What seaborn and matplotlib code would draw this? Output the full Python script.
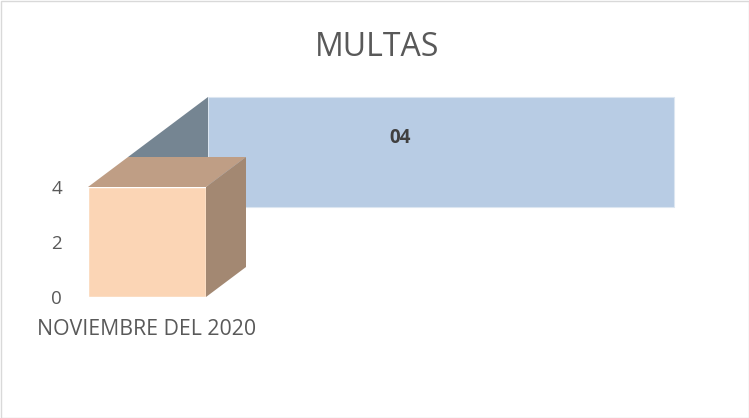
import matplotlib
matplotlib.use("Agg")
import matplotlib.pyplot as plt
import seaborn as sns
import pandas as pd
from matplotlib.patches import Polygon, Rectangle

categories = ["NOVIEMBRE DEL 2020"]
values = [4]
title = "MULTAS"
yticks = [0, 2, 4]

sns.set_theme(style="white")
plt.rcParams['font.family'] = ['Open Sans', 'DejaVu Sans']

W, H = 749, 418
fig = plt.figure(figsize=(W / 100, H / 100), dpi=100)

# axes placement in pixels
ax_l, ax_r, ax_b, ax_t = 80, 214, 297, 187
ax = fig.add_axes([ax_l / W, (H - ax_b) / H, (ax_r - ax_l) / W, (ax_b - ax_t) / H])

df = pd.DataFrame({"mes": categories, "multas": values})
front = "#FBD5B5"
sns.barplot(data=df, x="mes", y="multas", color=front, width=118 / 134,
            saturation=1, ax=ax, zorder=5)
ax.set_xlim(-0.5, 0.5)
ax.set_ylim(0, 4)
ax.set_xlabel("")
ax.set_ylabel("")
ax.set_yticks(yticks)
ax.set_yticklabels([str(t) for t in yticks], fontsize=13.5, color="#595959")
ax.tick_params(axis="y", length=0, pad=13)
ax.tick_params(axis="x", length=0, pad=16, labelsize=15.3, labelcolor="#595959")
for s in ax.spines.values():
    s.set_visible(False)
ax.patch.set_alpha(0)

# label box (figure pixels), behind the column
box = Rectangle((208 / W, (H - 207) / H), (674 - 208) / W, (207 - 97) / H,
                transform=fig.transFigure, facecolor="#B8CCE4",
                edgecolor="#DCE6F1", linewidth=0.8, zorder=1, clip_on=False)
ax.add_patch(box)

# pseudo-3D faces
px_x = (ax_r - ax_l) / 1.0
px_y = (ax_b - ax_t) / 4.0
dx, dy = 40 / px_x, 30 / px_y
for p in list(ax.patches):
    if p is box:
        continue
    x0 = p.get_x(); w = p.get_width(); h = p.get_height()
    x1 = x0 + w
    top = Polygon([(x0, h), (x1, h), (x1 + dx, h + dy), (x0 + dx, h + dy)],
                  closed=True, facecolor="#BF9E85", edgecolor="none",
                  clip_on=False, zorder=5)
    side = Polygon([(x1, 0), (x1 + dx, dy), (x1 + dx, h + dy), (x1, h)],
                   closed=True, facecolor="#A38872", edgecolor="none",
                   clip_on=False, zorder=5)
    ax.add_patch(top)
    ax.add_patch(side)
    # callout leader
    bx0 = x0 + dx
    by0 = h + dy
    lx = (208 - ax_l) / px_x - 0.5
    leader = Polygon([(bx0, by0), (lx, by0 + 60 / px_y), (lx, by0)],
                     closed=True, facecolor="#758592", edgecolor="none",
                     clip_on=False, zorder=2)
    ax.add_patch(leader)

fig.text(400 / W, (H - 138) / H, f"{values[0]:02d}", ha="center", va="center",
         fontsize=13.5, fontweight="bold", color="#404040")

fig.text(377 / W, (H - 48) / H, title, ha="center", va="center",
         fontsize=23, color="#595959")

frame = Rectangle((0.5 / W, 0.5 / H), (W - 1) / W, (H - 1) / H,
                  transform=fig.transFigure, facecolor="none",
                  edgecolor="#D9D9D9", linewidth=1)
fig.patches.append(frame)

fig.savefig("out.png", dpi=100)
